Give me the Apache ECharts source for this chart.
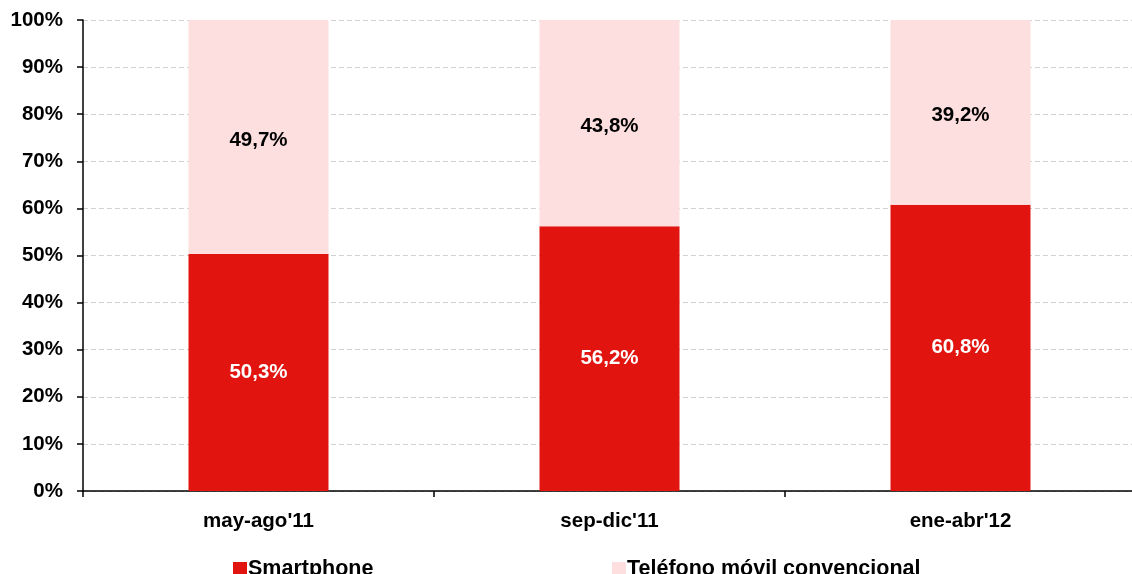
<!DOCTYPE html>
<html>
<head>
<meta charset="utf-8">
<script src="https://cdn.jsdelivr.net/npm/echarts@6/dist/echarts.min.js"></script>
<style>
  html, body { margin: 0; padding: 0; background: #fff; overflow: hidden; }
  #wrap { width: 1132px; height: 574px; overflow: hidden; }
  /* the plot runs slightly past the right edge of the page */
  #chart { width: 1140px; height: 574px; }
</style>
</head>
<body>
<div id="wrap"><div id="chart"></div></div>
<script>
// Periods and shares (%) of each phone type
const categories = ["may-ago'11", "sep-dic'11", "ene-abr'12"];
const smartphone = [50.3, 56.2, 60.8];
const convencional = [49.7, 43.8, 39.2];
const seriesNames = ['Smartphone', 'Teléfono móvil convencional'];

const RED = '#E1140F';
const PINK = '#FDDFDF';
const FONT = '"Liberation Sans", Arial, sans-serif';

const fmt = v => v.toFixed(1).replace('.', ',') + '%';

const chart = echarts.init(document.getElementById('chart'), null, { renderer: 'canvas' });

const legendText = { fontFamily: FONT, fontWeight: 'bold', fontSize: 21.5, color: '#000', padding: [0, 0, 0, -4] };

chart.setOption({
  animation: false,
  textStyle: { fontFamily: FONT },
  grid: { left: 83, right: 4, top: 20, bottom: 83, containLabel: false },
  legend: [
    { data: [seriesNames[0]], left: 233, top: 558, padding: 0, itemWidth: 14, itemHeight: 14, icon: 'rect', textStyle: legendText },
    { data: [seriesNames[1]], left: 612, top: 558, padding: 0, itemWidth: 14, itemHeight: 14, icon: 'rect', textStyle: legendText }
  ],
  xAxis: {
    type: 'category',
    data: categories,
    axisLine: { lineStyle: { color: '#000', width: 1.5 } },
    axisTick: { show: true, length: 6, lineStyle: { color: '#000', width: 1.5 } },
    axisLabel: { color: '#000', fontWeight: 'bold', fontSize: 20.5, margin: 20, fontFamily: FONT },
    splitLine: { show: false }
  },
  yAxis: {
    type: 'value',
    min: 0, max: 100, interval: 10,
    axisLine: { show: true, lineStyle: { color: '#000', width: 1.5 } },
    axisTick: { show: true, inside: false, length: 6, lineStyle: { color: '#000', width: 1.5 } },
    axisLabel: { color: '#000', fontWeight: 'bold', fontSize: 20.5, margin: 20, fontFamily: FONT, formatter: '{value}%' },
    splitLine: { show: true, lineStyle: { color: '#D0D0D0', type: [5, 3], width: 1 } }
  },
  series: [
    {
      name: seriesNames[0], type: 'bar', stack: 'total', barWidth: 140,
      data: smartphone,
      itemStyle: { color: RED },
      label: { show: true, position: 'inside', color: '#fff', fontWeight: 'bold', fontSize: 20.5, fontFamily: FONT,
               formatter: p => fmt(p.value) },
      z: 3
    },
    {
      name: seriesNames[1], type: 'bar', stack: 'total', barWidth: 140,
      data: convencional,
      itemStyle: { color: PINK },
      label: { show: true, position: 'inside', offset: [0, 3], color: '#000', fontWeight: 'bold', fontSize: 20.5, fontFamily: FONT,
               formatter: p => fmt(p.value) },
      z: 3
    }
  ]
});
</script>
</body>
</html>
